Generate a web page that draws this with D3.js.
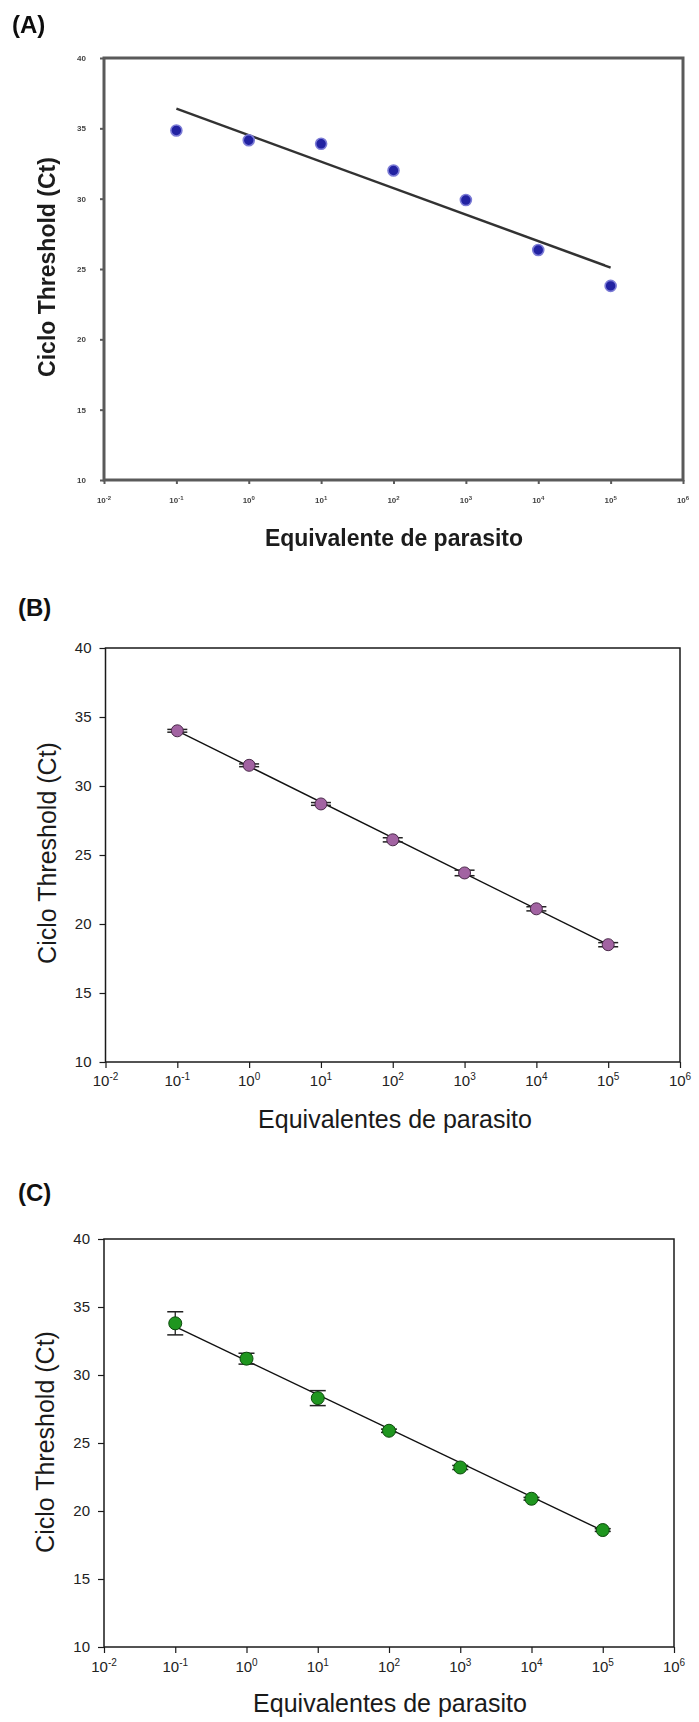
<!DOCTYPE html>
<html><head><meta charset="utf-8">
<script src="https://cdn.jsdelivr.net/npm/d3@7"></script>
<style>body{margin:0;background:#fff;} svg{display:block;}</style>
</head><body>
<svg id="c" width="699" height="1722"></svg>
<script>
// ---- data ----
const xExponents = [-2,-1,0,1,2,3,4,5,6];
const yTickValues = [10,15,20,25,30,35,40];
const parasiteEquivalents = [0.1,1,10,100,1000,10000,100000];
const ctA = [34.85,34.15,33.9,32.0,29.9,26.35,23.8];
const ctB = [34.0,31.5,28.7,26.1,23.7,21.1,18.5];
const errB = [0.1,0.1,0.1,0.15,0.2,0.15,0.15];
const ctC = [33.8,31.2,28.3,25.9,23.2,20.9,18.6];
const errC = [0.85,0.4,0.55,0.12,0.15,0.1,0.1];
const fitX = [0.1,100000];
const fitA = [36.4,25.1];
const fitB = [34.0,18.5];
const fitC = [33.55,18.55];
const panelLabels = ["(A)","(B)","(C)"];
const yTitle = "Ciclo Threshold (Ct)";
const xTitles = ["Equivalente de parasito","Equivalentes de parasito","Equivalentes de parasito"];

const svg = d3.select("#c");
const defs = svg.append("defs");
defs.append("filter").attr("id","blur").attr("x","-5%").attr("y","-5%").attr("width","110%").attr("height","110%")
  .append("feGaussianBlur").attr("stdDeviation",0.6);

const FONT = "'Liberation Sans', Arial, sans-serif";

const panels = [
  {label:panelLabels[0], ct:ctA, err:null, fit:fitA, xTitle:xTitles[0],
   left:104, right:683, top:58, bottom:480, tick:4, pad:14, frameW:3, frameC:"#5a5a5a",
   labelX:12, labelY:33, yTX:47, yTY:267, xTX:394, xTY:546, xTickY:503, tickFont:8, tickBold:true,
   tickColor:"#444", titleBold:true, titleSize:23, supSize:6, blur:true,
   fill:"#2020a2", stroke:"#7c7cd6", sw:1.6, r:5.5, lineW:2.4, lineC:"#333", cap:0},
  {label:panelLabels[1], ct:ctB, err:errB, fit:fitB, xTitle:xTitles[1],
   left:105.5, right:680, top:648, bottom:1062, tick:6, pad:8, frameW:1.5, frameC:"#1a1a1a",
   labelX:18, labelY:616, yTX:47, yTY:853, xTX:395, xTY:1128, xTickY:1086, tickFont:15, tickBold:false,
   tickColor:"#222", titleBold:false, titleSize:25, supSize:10, blur:false,
   fill:"#a263a2", stroke:"#4a2a4a", sw:1, r:6, lineW:1.4, lineC:"#111", cap:10},
  {label:panelLabels[2], ct:ctC, err:errC, fit:fitC, xTitle:xTitles[2],
   left:104, right:674, top:1239, bottom:1647, tick:6, pad:8, frameW:1.5, frameC:"#1a1a1a",
   labelX:18, labelY:1201, yTX:45, yTY:1442, xTX:390, xTY:1712, xTickY:1672, tickFont:15, tickBold:false,
   tickColor:"#222", titleBold:false, titleSize:25, supSize:10, blur:false,
   fill:"#1f961f", stroke:"#0c4a0c", sw:1, r:6.5, lineW:1.4, lineC:"#111", cap:8}
];

panels.forEach(cfg => {
  const g = svg.append("g");
  if (cfg.blur) g.attr("filter","url(#blur)");
  const x = d3.scaleLog().domain([1e-2,1e6]).range([cfg.left,cfg.right]);
  const y = d3.scaleLinear().domain([10,40]).range([cfg.bottom,cfg.top]);

  g.append("text").attr("x",cfg.labelX).attr("y",cfg.labelY)
    .style("font-family",FONT).style("font-weight","bold").style("font-size","24px")
    .attr("fill","#111").text(cfg.label);

  // y axis
  const ya = g.append("g").attr("transform",`translate(${cfg.left},0)`)
    .call(d3.axisLeft(y).tickValues(yTickValues).tickSize(cfg.tick).tickPadding(cfg.pad));
  ya.select(".domain").remove();
  ya.selectAll("line").attr("stroke",cfg.frameC).attr("stroke-width",cfg.frameW>2?2:1.2);
  ya.selectAll("text").style("font-family",FONT).style("font-size",cfg.tickFont+"px")
    .style("font-weight",cfg.tickBold?"bold":"normal").attr("fill",cfg.tickColor);

  // x axis
  const xa = g.append("g").attr("transform",`translate(0,${cfg.bottom})`)
    .call(d3.axisBottom(x).tickValues(xExponents.map(e=>Math.pow(10,e))).tickSize(cfg.tick).tickFormat(""));
  xa.select(".domain").remove();
  xa.selectAll("line").attr("stroke",cfg.frameC).attr("stroke-width",cfg.frameW>2?2:1.2);
  xExponents.forEach(e => {
    const t = g.append("text").attr("x",x(Math.pow(10,e))).attr("y",cfg.xTickY)
      .attr("text-anchor","middle").style("font-family",FONT)
      .style("font-weight",cfg.tickBold?"bold":"normal").attr("fill",cfg.tickColor);
    t.append("tspan").style("font-size",cfg.tickFont+"px").text("10");
    t.append("tspan").style("font-size",cfg.supSize+"px").attr("dy",-cfg.tickFont*0.4).text(String(e));
  });

  // frame
  g.append("rect").attr("x",cfg.left).attr("y",cfg.top)
    .attr("width",cfg.right-cfg.left).attr("height",cfg.bottom-cfg.top)
    .attr("fill","none").attr("stroke",cfg.frameC).attr("stroke-width",cfg.frameW);

  // titles
  g.append("text").attr("transform",`translate(${cfg.yTX},${cfg.yTY}) rotate(-90)`)
    .attr("text-anchor","middle").attr("dy","0.36em")
    .style("font-family",FONT).style("font-size",cfg.titleSize+"px")
    .style("font-weight",cfg.titleBold?"bold":"normal").attr("fill","#1a1a1a").text(yTitle);
  g.append("text").attr("x",cfg.xTX).attr("y",cfg.xTY).attr("text-anchor","middle")
    .style("font-family",FONT).style("font-size",cfg.titleSize+"px")
    .style("font-weight",cfg.titleBold?"bold":"normal").attr("fill","#1a1a1a").text(cfg.xTitle);

  // fit line
  g.append("path").datum(fitX.map((v,i)=>[v,cfg.fit[i]]))
    .attr("d",d3.line().x(d=>x(d[0])).y(d=>y(d[1])))
    .attr("fill","none").attr("stroke",cfg.lineC).attr("stroke-width",cfg.lineW);

  const pts = parasiteEquivalents.map((v,i)=>({x:v,y:cfg.ct[i],e:cfg.err?cfg.err[i]:0}));

  if (cfg.err) {
    const eb = g.append("g").selectAll("g").data(pts).join("g");
    eb.append("line").attr("x1",d=>x(d.x)).attr("x2",d=>x(d.x))
      .attr("y1",d=>y(d.y+d.e)).attr("y2",d=>y(d.y-d.e)).attr("stroke","#222").attr("stroke-width",1.3);
    eb.append("line").attr("x1",d=>x(d.x)-cfg.cap).attr("x2",d=>x(d.x)+cfg.cap)
      .attr("y1",d=>y(d.y+d.e)).attr("y2",d=>y(d.y+d.e)).attr("stroke","#222").attr("stroke-width",1.5);
    eb.append("line").attr("x1",d=>x(d.x)-cfg.cap).attr("x2",d=>x(d.x)+cfg.cap)
      .attr("y1",d=>y(d.y-d.e)).attr("y2",d=>y(d.y-d.e)).attr("stroke","#222").attr("stroke-width",1.5);
  }

  g.append("g").selectAll("circle").data(pts).join("circle")
    .attr("cx",d=>x(d.x)).attr("cy",d=>y(d.y)).attr("r",cfg.r)
    .attr("fill",cfg.fill).attr("stroke",cfg.stroke).attr("stroke-width",cfg.sw);
});
</script>
</body></html>
